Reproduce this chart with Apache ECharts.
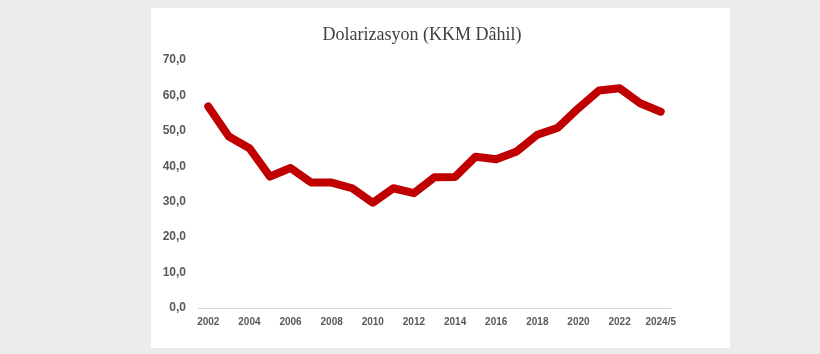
<!DOCTYPE html>
<html>
<head>
<meta charset="utf-8">
<script src="https://cdn.jsdelivr.net/npm/echarts@6/dist/echarts.min.js"></script>
<style>
  html, body { margin: 0; padding: 0; background: #ececec; }
  #panel { position: absolute; left: 151px; top: 8px; width: 579px; height: 340px; background: #fff; }
  #chart { position: absolute; left: 0; top: 0; width: 820px; height: 354px; }
</style>
</head>
<body>
<div id="panel"></div>
<div id="chart"></div>
<script>
// yıllar ve dolarizasyon oranı (%)
const years = ['2002', '2003', '2004', '2005', '2006', '2007', '2008', '2009', '2010', '2011', '2012',
  '2013', '2014', '2015', '2016', '2017', '2018', '2019', '2020', '2021', '2022', '2023', '2024/5'];
const dollarization = [56.9, 48.4, 45.1, 37.1, 39.5, 35.4, 35.4, 33.8, 29.7, 33.8, 32.4,
  36.9, 37.0, 42.7, 42.0, 44.2, 48.9, 50.9, 56.4, 61.4, 62.0, 57.8, 55.4];
const yTicks = {min: 0, max: 70, step: 10};

const chart = echarts.init(document.getElementById('chart'));
const option = {
  backgroundColor: 'transparent',
  animation: false,
  title: {
    text: 'Dolarizasyon (KKM Dâhil)',
    left: 417,
    textAlign: 'center',
    top: 21,
    textStyle: {
      fontFamily: 'Liberation Serif',
      fontSize: 18,
      fontWeight: 'normal',
      color: '#404040'
    }
  },
  grid: {
    left: 198,
    right: 149,
    top: 60,
    bottom: 46
  },
  xAxis: {
    type: 'category',
    data: years,
    axisLine: {lineStyle: {color: '#d9d9d9', width: 1}},
    axisTick: {show: false},
    axisLabel: {
      interval: 1,
      margin: 9,
      color: '#595959',
      fontFamily: 'Liberation Sans',
      fontWeight: 'bold',
      fontSize: 10
    }
  },
  yAxis: {
    type: 'value',
    min: yTicks.min,
    max: yTicks.max,
    interval: yTicks.step,
    axisLine: {show: false},
    axisTick: {show: false},
    splitLine: {show: false},
    axisLabel: {
      margin: 12,
      color: '#595959',
      fontFamily: 'Liberation Sans',
      fontWeight: 'bold',
      fontSize: 12,
      formatter: (v) => v.toFixed(1).replace('.', ',')
    }
  },
  series: [{
    type: 'line',
    data: dollarization,
    symbol: 'none',
    lineStyle: {color: '#c00000', width: 8, cap: 'round', join: 'round'}
  }]
};
chart.setOption(option);
</script>
</body>
</html>
